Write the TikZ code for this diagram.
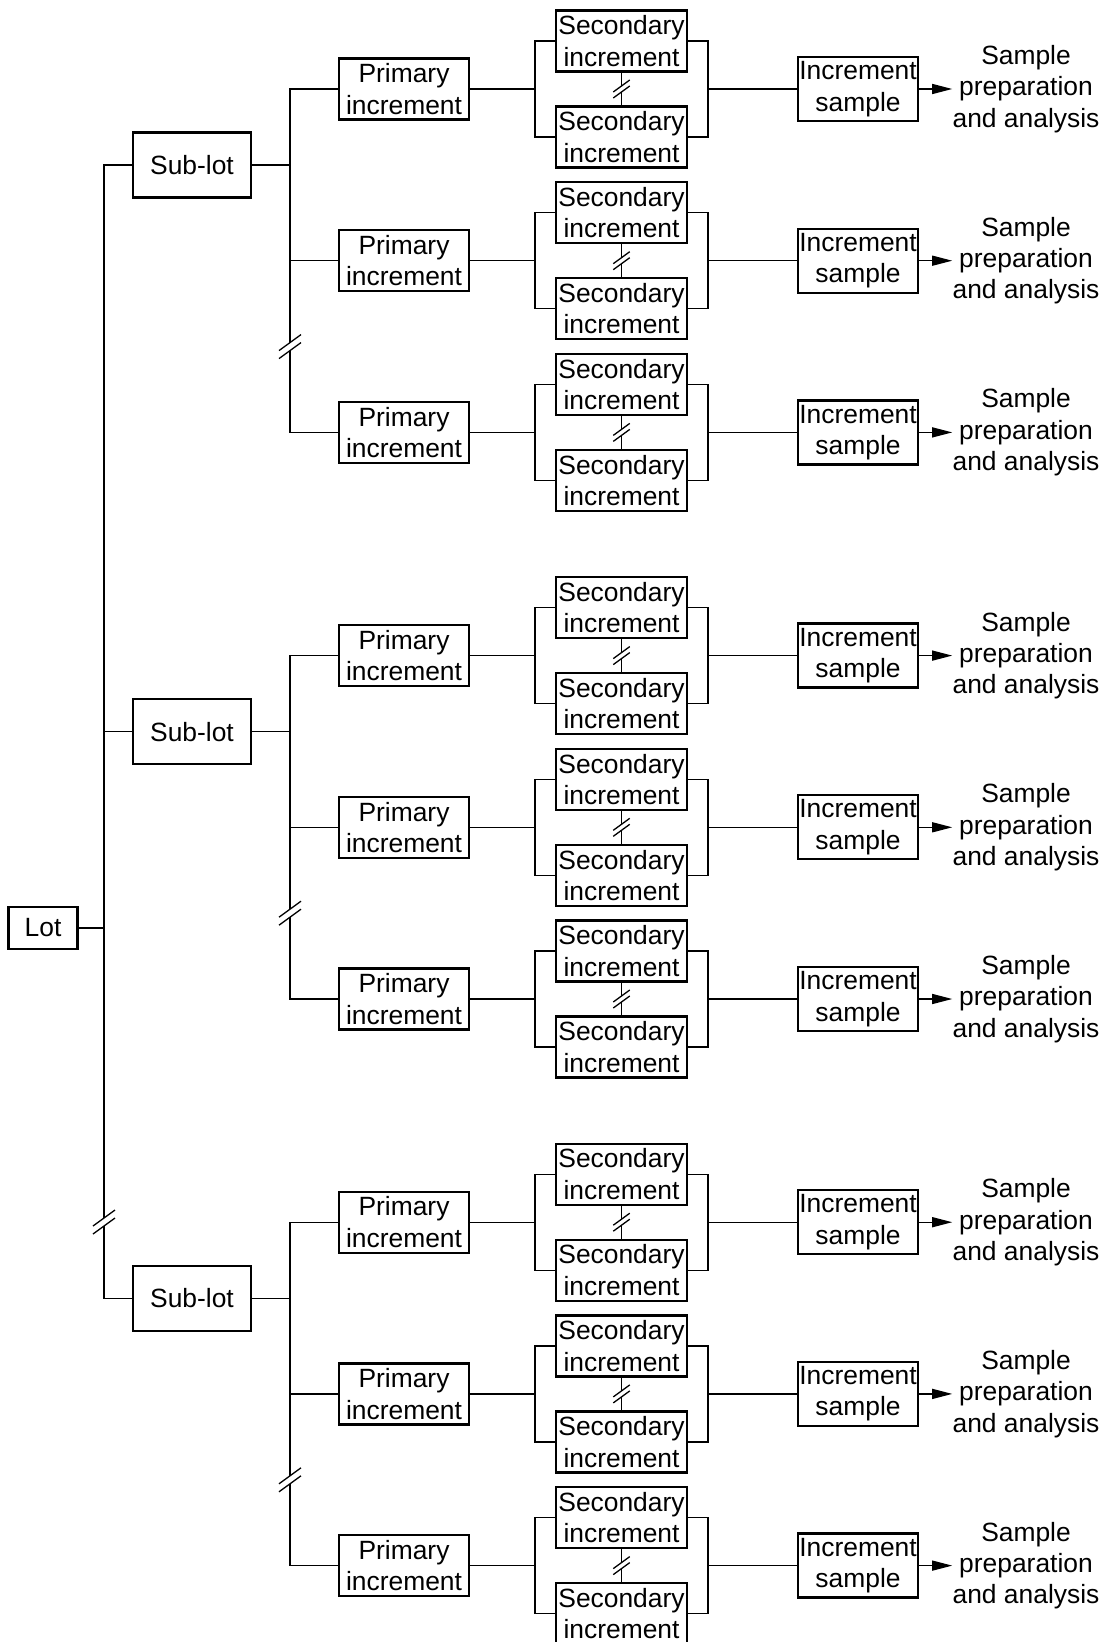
\documentclass[tikz,border=0pt]{standalone}
\usepackage{fontspec}
\setmainfont{Liberation Sans}
\usetikzlibrary{arrows.meta}
\tikzset{
    sampling chart/.style = {x=0.5pt, y=-0.5pt, >={Triangle[length=10pt, width=5pt]}},
    line/.style     = {line width=0.65pt},
    box/.style      = {draw, line width=1.15pt, fill=white, inner sep=0pt,
                       align=center, font=\fontsize{13.2}{15.7}\selectfont},
    lotbox/.style   = {box, minimum width=34.5pt, minimum height=21pt},
    subbox/.style   = {box, minimum width=59pt, minimum height=32.5pt},
    primbox/.style  = {box, minimum width=65pt, minimum height=30.5pt},
    secbox/.style   = {box, minimum width=65.5pt, minimum height=30.5pt},
    incbox/.style   = {box, minimum width=60pt, minimum height=32pt},
    result/.style   = {inner sep=0pt, align=center,
                       font=\fontsize{13.2}{15.7}\selectfont},
    break mark/.pic = {\fill[white] (-3,-4) rectangle (3,4);
                       \draw[line] (-11,4) -- (11,-12) (-11,12) -- (11,-4);}
}
\begin{document}
\begin{tikzpicture}[sampling chart]
\useasboundingbox (0,0) rectangle (1104,1642);

% ================= Lot and sub-lots =================
\node[lotbox] (lot) at (43,928) {Lot};
\coordinate (lotjoin) at (104,928);

\foreach \g in {1,2,3} {
  \pgfmathsetmacro\base{89+566.6*(\g-1)}
  \node[subbox] (sub\g) at (192,\base+76) {Sub-lot};
  \coordinate (pj\g) at (290,\base+76);
  \draw[line] (sub\g.east) -- (pj\g);

  % ================= Primary, secondary and increment samples =================
  \foreach \p in {1,2,3} {
    \pgfmathsetmacro\py{\base+171.7*(\p-1)}
    \node[primbox] (prim\g\p) at (404,\py) {Primary\\increment};
    \node[secbox] (secA\g\p) at (621.5,\py-48) {Secondary\\increment};
    \node[secbox] (secB\g\p) at (621.5,\py+48) {Secondary\\increment};
    \node[incbox] (inc\g\p) at (858,\py) {Increment\\sample};
    \node[result] (res\g\p) at (1026,\py) {Sample\\preparation\\and analysis};
    \coordinate (lb\g\p) at (535,\py);
    \coordinate (rb\g\p) at (708,\py);

    \draw[line] (prim\g\p.east) -- (lb\g\p);
    \draw[line] (secA\g\p.west) -| (lb\g\p) |- (secB\g\p.west);
    \draw[line] (secA\g\p.east) -| (rb\g\p) |- (secB\g\p.east);
    \draw[line] (rb\g\p) -- (inc\g\p.west);
    \draw[line] (secA\g\p.south) -- (secB\g\p.north);
    \pic[scale=0.75] at (621.5,\py) {break mark};
    \draw[line, ->] (inc\g\p.east) -- (res\g\p.west);
  }

  % ================= Primary trunk =================
  \draw[line] (prim\g1.west) -| (pj\g) |- (prim\g3.west);
  \draw[line] (prim\g2.west) -- (prim\g2.west -| pj\g);
  \pic at (290,\base+257.6) {break mark};
}

% ================= Lot trunk =================
\draw[line] (lot.east) -- (lotjoin);
\draw[line] (sub1.west) -| (lotjoin) |- (sub3.west);
\draw[line] (sub2.west) -- (sub2.west -| lotjoin);
\pic at (104,1222) {break mark};

\end{tikzpicture}
\end{document}
